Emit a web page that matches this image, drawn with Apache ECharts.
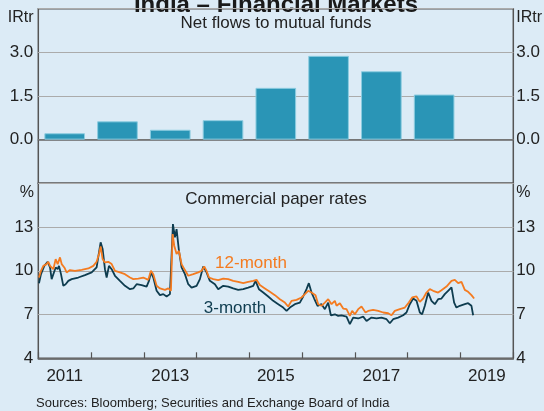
<!DOCTYPE html>
<html>
<head>
<meta charset="utf-8">
<script src="https://cdn.jsdelivr.net/npm/echarts@6/dist/echarts.min.js"></script>
<style>
  html, body { margin: 0; padding: 0; background: #DCEBF6; }
  #chart { width: 544px; height: 411px; }
</style>
</head>
<body>
<div id="chart"></div>
<script>
// 净流入（年度柱）
var mfYears = ['2011', '2012', '2013', '2014', '2015', '2016', '2017', '2018', '2019'];
var mfFlows = [0.22, 0.63, 0.34, 0.67, 1.78, 2.88, 2.35, 1.55];

// 商业票据利率 [年份(小数), %]
var cp3m = [
  [2011.013, 9.15], [2011.051, 9.77], [2011.114, 10.34], [2011.177, 10.62], [2011.222, 10.23],
  [2011.253, 9.43], [2011.285, 9.54], [2011.329, 10.23], [2011.367, 10.11], [2011.392, 10.34],
  [2011.430, 9.77], [2011.474, 8.97], [2011.518, 9.08], [2011.569, 9.31], [2011.632, 9.43],
  [2011.758, 9.54], [2011.884, 9.70], [2012.011, 9.89], [2012.105, 10.23], [2012.150, 11.26],
  [2012.181, 11.95], [2012.219, 11.49], [2012.263, 10.11], [2012.295, 9.54], [2012.339, 10.34],
  [2012.390, 10.11], [2012.453, 9.66], [2012.547, 9.31], [2012.642, 8.97], [2012.737, 8.74],
  [2012.800, 8.79], [2012.863, 9.08], [2012.958, 9.02], [2013.052, 8.92], [2013.097, 9.31],
  [2013.134, 9.89], [2013.179, 9.54], [2013.242, 8.63], [2013.305, 8.33], [2013.368, 8.40],
  [2013.431, 8.24], [2013.494, 8.40], [2013.526, 8.28], [2013.551, 13.20], [2013.589, 12.29],
  [2013.620, 12.86], [2013.665, 11.37], [2013.715, 10.23], [2013.778, 9.77], [2013.841, 9.08],
  [2013.904, 8.85], [2013.999, 8.97], [2014.062, 9.43], [2014.125, 10.30], [2014.188, 9.89],
  [2014.251, 9.31], [2014.346, 9.08], [2014.409, 8.74], [2014.504, 8.97], [2014.599, 8.92],
  [2014.693, 8.79], [2014.788, 8.69], [2014.883, 8.74], [2014.977, 8.85], [2015.072, 8.97],
  [2015.116, 9.31], [2015.180, 8.74], [2015.262, 8.51], [2015.356, 8.24], [2015.451, 7.94],
  [2015.546, 7.71], [2015.640, 7.48], [2015.704, 7.25], [2015.767, 7.48], [2015.861, 7.71],
  [2015.956, 7.82], [2016.019, 8.24], [2016.082, 8.74], [2016.126, 9.15], [2016.177, 8.51],
  [2016.227, 8.10], [2016.291, 7.60], [2016.366, 7.71], [2016.430, 7.37], [2016.493, 7.82],
  [2016.543, 6.95], [2016.619, 7.02], [2016.682, 6.91], [2016.745, 6.95], [2016.840, 6.86],
  [2016.903, 6.34], [2016.966, 6.79], [2017.061, 6.73], [2017.156, 6.86], [2017.219, 6.56],
  [2017.313, 6.79], [2017.408, 6.73], [2017.503, 6.79], [2017.598, 6.68], [2017.661, 6.40],
  [2017.724, 6.68], [2017.818, 6.79], [2017.913, 6.95], [2017.976, 7.14], [2018.039, 7.71],
  [2018.103, 8.10], [2018.166, 7.94], [2018.229, 7.14], [2018.273, 7.02], [2018.324, 7.60],
  [2018.387, 8.51], [2018.450, 7.94], [2018.513, 7.71], [2018.576, 8.05], [2018.639, 8.10],
  [2018.702, 8.40], [2018.765, 8.63], [2018.829, 8.86], [2018.879, 7.82], [2018.923, 7.48],
  [2018.986, 7.60], [2019.081, 7.71], [2019.144, 7.78], [2019.207, 7.60], [2019.239, 6.95]
];
var cp12m = [
  [2011.013, 9.54], [2011.051, 10.00], [2011.095, 10.34], [2011.158, 10.46], [2011.190, 10.62],
  [2011.222, 10.34], [2011.285, 10.11], [2011.329, 10.80], [2011.367, 10.46], [2011.411, 10.92],
  [2011.443, 10.46], [2011.493, 10.23], [2011.537, 9.89], [2011.600, 10.05], [2011.695, 10.00],
  [2011.821, 10.07], [2011.948, 10.16], [2012.042, 10.34], [2012.105, 10.62], [2012.150, 11.15],
  [2012.181, 11.67], [2012.219, 10.80], [2012.263, 10.57], [2012.326, 10.62], [2012.390, 10.46],
  [2012.453, 10.00], [2012.547, 9.89], [2012.642, 9.77], [2012.737, 9.54], [2012.800, 9.43],
  [2012.895, 9.47], [2012.989, 9.54], [2013.084, 9.38], [2013.134, 10.00], [2013.179, 9.77],
  [2013.242, 8.97], [2013.305, 8.79], [2013.400, 8.69], [2013.463, 8.79], [2013.513, 8.63],
  [2013.545, 12.52], [2013.576, 11.72], [2013.620, 11.15], [2013.665, 11.37], [2013.715, 10.46],
  [2013.778, 10.05], [2013.841, 9.66], [2013.936, 9.77], [2014.031, 9.89], [2014.094, 10.00],
  [2014.144, 10.30], [2014.188, 10.00], [2014.233, 9.54], [2014.315, 9.43], [2014.409, 9.36],
  [2014.504, 9.47], [2014.599, 9.43], [2014.693, 9.31], [2014.788, 9.24], [2014.883, 9.15],
  [2014.977, 9.24], [2015.072, 9.31], [2015.135, 9.38], [2015.198, 9.02], [2015.293, 8.79],
  [2015.388, 8.56], [2015.483, 8.33], [2015.577, 8.05], [2015.672, 7.82], [2015.735, 7.55],
  [2015.798, 7.94], [2015.893, 8.01], [2015.987, 8.17], [2016.051, 8.40], [2016.114, 8.63],
  [2016.177, 8.51], [2016.253, 8.33], [2016.303, 7.71], [2016.366, 7.60], [2016.430, 7.82],
  [2016.493, 8.05], [2016.556, 7.71], [2016.619, 7.94], [2016.651, 7.60], [2016.714, 7.78],
  [2016.777, 7.41], [2016.840, 7.37], [2016.903, 6.91], [2016.947, 7.25], [2016.998, 7.02],
  [2017.061, 7.37], [2017.124, 7.55], [2017.156, 7.64], [2017.200, 7.14], [2017.250, 7.25],
  [2017.345, 7.32], [2017.440, 7.25], [2017.534, 7.14], [2017.629, 7.09], [2017.692, 6.95],
  [2017.755, 7.25], [2017.850, 7.37], [2017.945, 7.48], [2018.020, 7.82], [2018.084, 8.17],
  [2018.166, 8.24], [2018.229, 7.87], [2018.292, 8.10], [2018.355, 8.51], [2018.418, 8.74],
  [2018.481, 8.63], [2018.576, 8.51], [2018.639, 8.67], [2018.734, 8.92], [2018.829, 9.31],
  [2018.892, 9.38], [2018.955, 9.15], [2019.018, 9.24], [2019.081, 8.69], [2019.144, 8.56],
  [2019.207, 8.33], [2019.258, 8.10]
];

var FONT = '"Liberation Sans", Arial, sans-serif';
var TXT = '#222';
var FRAME = '#555';
var GRIDC = '#ababab';

var chart = echarts.init(document.getElementById('chart'), null, {renderer: 'canvas'});

function topLabel(v) {
    if (Math.abs(v) < 1e-6 || Math.abs(v - 1.5) < 1e-6 || Math.abs(v - 3) < 1e-6) return v.toFixed(1);
    return '';
}
function botLabel(v) {
    return v > 15 ? '' : String(v);
}

var yCommon = {
    axisLine: {show: false},
    axisTick: {show: false},
    splitLine: {show: true, lineStyle: {color: GRIDC, width: 1}}
};

function label(text, x, y, align, size, color, weight) {
    return {
        type: 'text', x: x, y: y, silent: true,
        style: {
            text: text, align: align, verticalAlign: 'middle',
            font: (weight || 'normal') + ' ' + size + 'px ' + FONT,
            fill: color || TXT
        }
    };
}

var option = {
    backgroundColor: '#DCEBF6',
    animation: false,
    grid: [
        {left: 38.3, right: 30.7, top: 8.7, height: 174.6, show: true,
         borderColor: FRAME, borderWidth: 1.5, backgroundColor: 'transparent'},
        {left: 38.3, right: 30.7, top: 183.3, height: 175, show: true,
         borderColor: FRAME, borderWidth: 1.5, backgroundColor: 'transparent'}
    ],
    xAxis: [
        {gridIndex: 0, type: 'category', data: mfYears, boundaryGap: true,
         axisLine: {show: true, onZero: true, lineStyle: {color: '#666', width: 1.5}},
         axisTick: {show: false}, axisLabel: {show: false}},
        {gridIndex: 1, type: 'value', min: 2011, max: 2020, interval: 1, position: 'bottom',
         axisLine: {show: true, onZero: false, lineStyle: {color: FRAME, width: 1.5}},
         axisTick: {show: true, inside: true, length: 6, lineStyle: {color: FRAME, width: 1.2}},
         axisLabel: {show: false}, splitLine: {show: false}},
        {gridIndex: 1, type: 'category', data: mfYears, position: 'bottom', boundaryGap: true,
         axisLine: {show: false}, axisTick: {show: false},
         axisLabel: {show: true, interval: 1, margin: 10, color: TXT, fontSize: 17, fontFamily: FONT}}
    ],
    yAxis: [
        Object.assign({gridIndex: 0, type: 'value', min: -1.5, max: 4.5, interval: 1.5, position: 'left',
         axisLabel: {formatter: topLabel, margin: 5, color: TXT, fontSize: 17, fontFamily: FONT}}, yCommon),
        Object.assign({gridIndex: 0, type: 'value', min: -1.5, max: 4.5, interval: 1.5, position: 'right',
         axisLabel: {formatter: topLabel, margin: 3, color: TXT, fontSize: 17, fontFamily: FONT}}, yCommon),
        Object.assign({gridIndex: 1, type: 'value', min: 4, max: 16, interval: 3, position: 'left',
         axisLabel: {formatter: botLabel, margin: 5, color: TXT, fontSize: 17, fontFamily: FONT}}, yCommon),
        Object.assign({gridIndex: 1, type: 'value', min: 4, max: 16, interval: 3, position: 'right',
         axisLabel: {formatter: botLabel, margin: 3, color: TXT, fontSize: 17, fontFamily: FONT}}, yCommon)
    ],
    series: [
        {
            name: 'Net flows to mutual funds', type: 'bar',
            xAxisIndex: 0, yAxisIndex: 0,
            data: mfFlows,
            barCategoryGap: '23%',
            itemStyle: {color: '#2A95B6', borderColor: '#8ccce0', borderWidth: 1}
        },
        {
            name: '3-month', type: 'line',
            xAxisIndex: 1, yAxisIndex: 2,
            data: cp3m, showSymbol: false,
            lineStyle: {color: '#0E3C4F', width: 1.8},
            itemStyle: {color: '#0E3C4F'}
        },
        {
            name: '12-month', type: 'line',
            xAxisIndex: 1, yAxisIndex: 2,
            data: cp12m, showSymbol: false,
            lineStyle: {color: '#F47B20', width: 1.8},
            itemStyle: {color: '#F47B20'}
        }
    ],
    graphic: [
        label('India – Financial Markets', 276, 5, 'center', 24, '#1a1a1a', 'bold'),
        label('Net flows to mutual funds', 276, 23, 'center', 17),
        label('Commercial paper rates', 276, 199, 'center', 17),
        label('IRtr', 33.5, 17.5, 'right', 16),
        label('IRtr', 516.3, 17.5, 'left', 16),
        label('%', 34, 192.5, 'right', 16),
        label('%', 516.3, 192.5, 'left', 16),
        label('12-month', 251, 263, 'center', 17, '#F47B20'),
        label('3-month', 235, 308, 'center', 17, '#0E3C4F'),
        label('Sources: Bloomberg; Securities and Exchange Board of India', 36, 403, 'left', 13)
    ]
};

chart.setOption(option);
</script>
</body>
</html>
